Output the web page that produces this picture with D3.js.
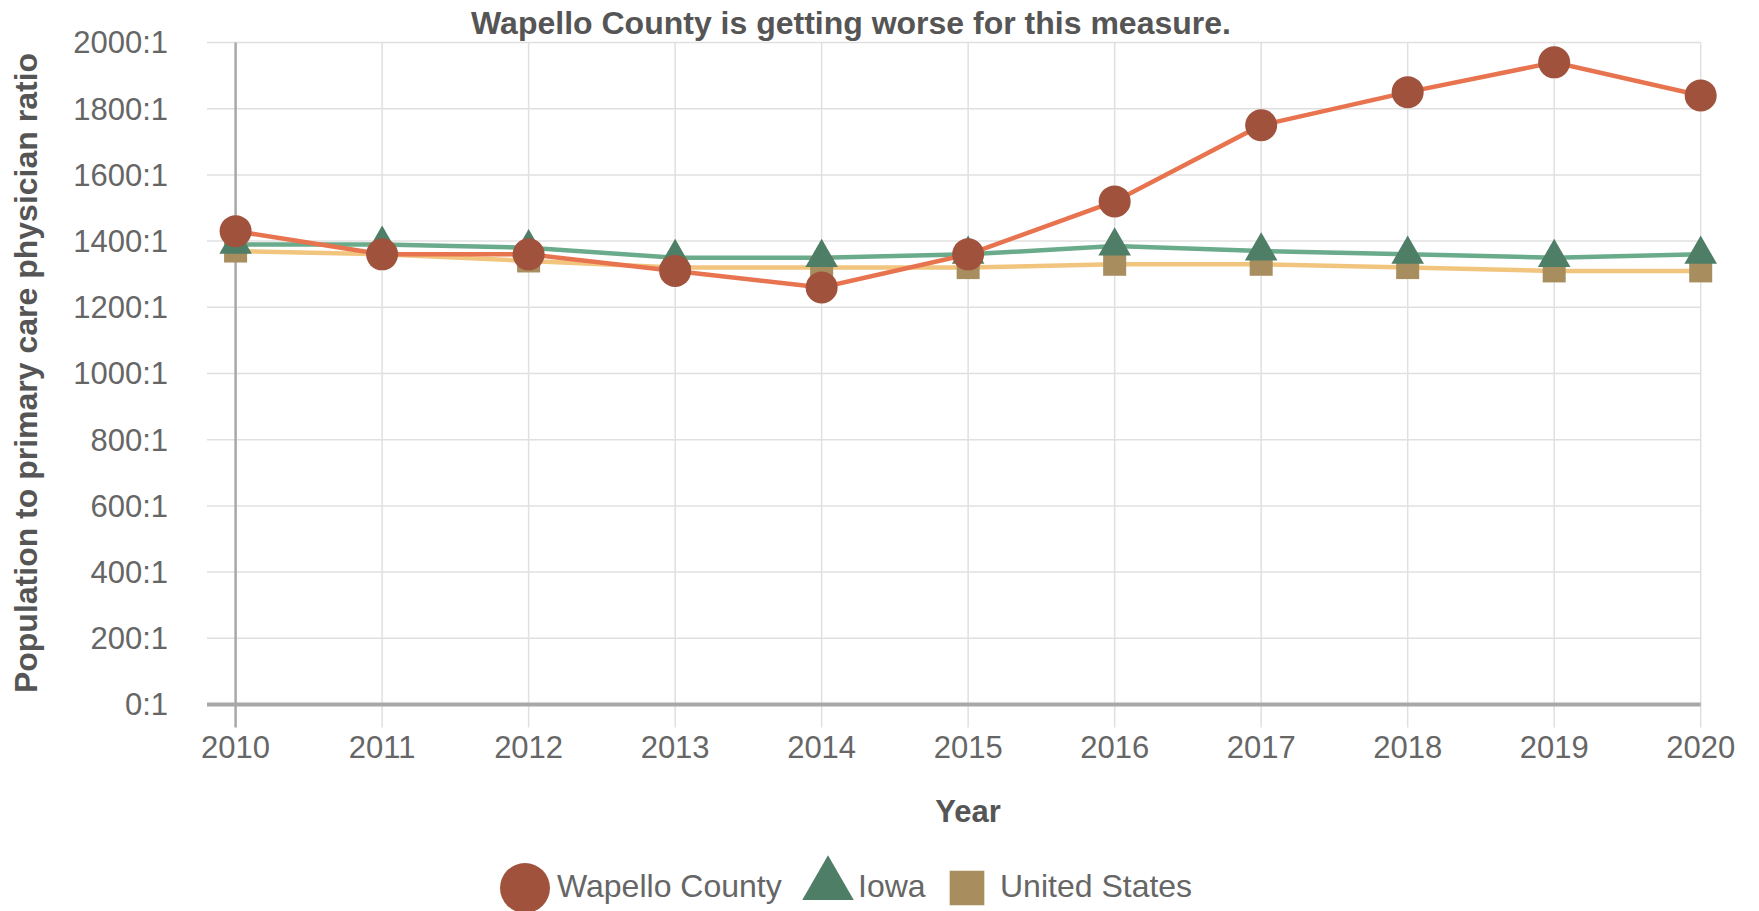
<!DOCTYPE html>
<html>
<head>
<meta charset="utf-8">
<script src="https://cdn.jsdelivr.net/npm/d3@7"></script>
<style>
  body { margin: 0; background: #fff; }
  text { font-family: "Liberation Sans", Arial, sans-serif; }
</style>
</head>
<body>
<svg id="chart" width="1759" height="911"></svg>
<script>
// data
const years = [2010, 2011, 2012, 2013, 2014, 2015, 2016, 2017, 2018, 2019, 2020];
const wapello = [1430, 1360, 1360, 1310, 1260, 1360, 1520, 1750, 1850, 1940, 1840];
const iowa = [1390, 1390, 1380, 1350, 1350, 1360, 1385, 1370, 1360, 1350, 1360];
const unitedStates = [1370, 1360, 1340, 1320, 1320, 1320, 1330, 1330, 1320, 1310, 1310];
const yTicks = [0, 200, 400, 600, 800, 1000, 1200, 1400, 1600, 1800, 2000];

const series = [
  { name: "United States", values: unitedStates, line: "#f2c57f", mark: "#a88d5e", shape: "square" },
  { name: "Iowa", values: iowa, line: "#6aab8c", mark: "#4f7e67", shape: "triangle" },
  { name: "Wapello County", values: wapello, line: "#e8734f", mark: "#a0523d", shape: "circle" }
];
const legendOrder = ["Wapello County", "Iowa", "United States"];

const svg = d3.select("#chart");
const x = d3.scaleLinear().domain([2010, 2020]).range([235.6, 1700.7]);
const y = d3.scaleLinear().domain([0, 2000]).range([704.5, 42.5]);
const gridLeft = 207;

// horizontal grid
svg.append("g").selectAll("line").data(yTicks).join("line")
  .attr("x1", gridLeft).attr("x2", x(2020))
  .attr("y1", d => y(d)).attr("y2", d => y(d))
  .attr("stroke", "#e0e0e0").attr("stroke-width", 1.5);

// vertical grid
svg.append("g").selectAll("line").data(years).join("line")
  .attr("x1", d => x(d)).attr("x2", d => x(d))
  .attr("y1", y(2000)).attr("y2", y(0) + 23)
  .attr("stroke", (d, i) => i === 0 ? "#a8a8a8" : "#e0e0e0")
  .attr("stroke-width", (d, i) => i === 0 ? 2.5 : 1.5);

// x axis line
svg.append("line")
  .attr("x1", gridLeft).attr("x2", x(2020))
  .attr("y1", y(0)).attr("y2", y(0))
  .attr("stroke", "#a8a8a8").attr("stroke-width", 4);

// y tick labels
svg.append("g").selectAll("text").data(yTicks).join("text")
  .attr("x", 168).attr("y", d => y(d)).attr("dy", "0.35em")
  .attr("text-anchor", "end").attr("fill", "#666").attr("font-size", 31)
  .text(d => d + ":1");

// x tick labels
svg.append("g").selectAll("text").data(years).join("text")
  .attr("x", d => x(d)).attr("y", 747).attr("dy", "0.35em")
  .attr("text-anchor", "middle").attr("fill", "#666").attr("font-size", 31)
  .text(d => d);

// titles
svg.append("text").attr("x", 851).attr("y", 23).attr("dy", "0.35em")
  .attr("text-anchor", "middle").attr("font-weight", "bold").attr("font-size", 32)
  .attr("fill", "#555").text("Wapello County is getting worse for this measure.");
svg.append("text").attr("x", 968).attr("y", 811).attr("dy", "0.35em")
  .attr("text-anchor", "middle").attr("font-weight", "bold").attr("font-size", 31)
  .attr("fill", "#555").text("Year");
svg.append("text").attr("transform", "translate(26,373) rotate(-90)").attr("dy", "0.35em")
  .attr("text-anchor", "middle").attr("font-weight", "bold").attr("font-size", 32)
  .attr("fill", "#555").text("Population to primary care physician ratio");

const symbolFor = (shape, size) => {
  const t = shape === "circle" ? d3.symbolCircle : shape === "triangle" ? d3.symbolTriangle : d3.symbolSquare;
  return d3.symbol().type(t).size(size)();
};
const markSize = { circle: 804, triangle: 460, square: 530 };

const lineGen = d3.line().x((d, i) => x(years[i])).y(d => y(d));

// lines first, then markers per series
series.forEach(s => {
  svg.append("path").datum(s.values)
    .attr("d", lineGen).attr("fill", "none")
    .attr("stroke", s.line).attr("stroke-width", 4.5);
});
series.forEach(s => {
  svg.append("g").selectAll("path").data(s.values).join("path")
    .attr("d", symbolFor(s.shape, markSize[s.shape]))
    .attr("transform", (d, i) => `translate(${x(years[i])},${y(d)})`)
    .attr("fill", s.mark);
});

// legend
const legendSymbol = { circle: 1960, triangle: 1150, square: 1200 };
const legendX = { "Wapello County": 525, "Iowa": 828, "United States": 967 };
legendOrder.forEach(name => {
  const s = series.find(d => d.name === name);
  const cx = legendX[name];
  svg.append("path").attr("d", symbolFor(s.shape, legendSymbol[s.shape]))
    .attr("transform", `translate(${cx},${s.shape === "triangle" ? 885 : 888})`)
    .attr("fill", s.mark);
  const off = s.shape === "circle" ? 32 : s.shape === "triangle" ? 30 : 33;
  svg.append("text").attr("x", cx + off).attr("y", 886).attr("dy", "0.35em")
    .attr("font-size", 32).attr("fill", "#666").text(name);
});
</script>
</body>
</html>
